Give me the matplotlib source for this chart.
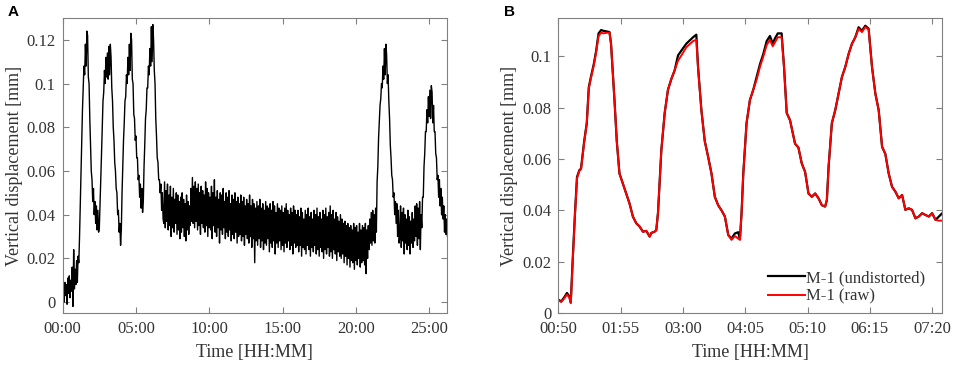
import numpy as np
import matplotlib
matplotlib.use("Agg")
import matplotlib.pyplot as plt

plt.rcParams['font.family'] = ['Liberation Serif', 'DejaVu Serif']

# Panel A: two readings per 0.1 h step (um)
hours_a = np.arange(263) * 0.1
disp_a1 = np.array([
    1, 0, 3, -1, 4, 2, 5, -2, 6, 8,
    9, 18, 45, 75, 98, 104, 108, 122, 100, 72,
    56, 52, 46, 44, 42, 34, 55, 80, 96, 100,
    103, 102, 104, 112, 92, 74, 60, 50, 42, 36,
    33, 62, 82, 94, 100, 104, 106, 120, 100, 84,
    76, 66, 58, 54, 52, 46, 72, 88, 98, 104,
    108, 110, 120, 100, 76, 64, 56, 54, 50, 36,
    34, 37, 33, 35, 30, 34, 32, 36, 31, 33,
    29, 32, 34, 30, 28, 33, 31, 35, 37, 36,
    34, 37, 33, 35, 31, 36, 34, 32, 35, 30,
    34, 33, 29, 35, 32, 30, 34, 27, 33, 31,
    34, 29, 32, 30, 33, 28, 31, 29, 32, 27,
    30, 31, 28, 30, 26, 31, 29, 27, 30, 25,
    29, 18, 28, 26, 29, 25, 28, 24, 27, 26,
    29, 23, 27, 25, 28, 22, 27, 25, 28, 24,
    26, 23, 27, 25, 28, 24, 26, 22, 27, 25,
    26, 23, 26, 21, 25, 24, 22, 26, 24, 21,
    25, 23, 26, 22, 24, 21, 25, 23, 20, 24,
    22, 25, 21, 23, 20, 24, 22, 19, 23, 21,
    20, 22, 18, 21, 17, 20, 16, 19, 18, 15,
    19, 17, 20, 16, 18, 19, 17, 13, 20, 24,
    27, 26, 28, 27, 32, 62, 82, 93, 98, 102,
    104, 113, 104, 84, 66, 56, 50, 46, 45, 42,
    30, 25, 28, 22, 27, 24, 26, 22, 27, 25,
    28, 30, 26, 29, 24, 34, 48, 68, 78, 82,
    85, 84, 96, 90, 78, 66, 58, 56, 52, 48,
    44, 40, 38]) / 1000
disp_a2 = np.array([
    7, 9, 8, 11, 12, 10, 16, 24, 15, 19,
    21, 30, 60, 88, 108, 118, 124, 103, 84, 60,
    46, 40, 36, 33, 32, 45, 68, 92, 106, 112,
    114, 117, 118, 98, 80, 64, 52, 40, 32, 26,
    50, 74, 92, 104, 112, 118, 123, 102, 86, 74,
    66, 56, 48, 43, 41, 62, 84, 98, 108, 116,
    126, 127, 106, 84, 66, 56, 50, 42, 38, 55,
    51, 54, 49, 53, 48, 52, 47, 50, 49, 46,
    48, 50, 47, 45, 49, 46, 44, 52, 57, 53,
    55, 52, 54, 50, 53, 51, 49, 55, 52, 50,
    48, 53, 50, 56, 48, 51, 47, 50, 49, 52,
    46, 50, 48, 51, 45, 49, 47, 50, 46, 48,
    45, 49, 46, 48, 44, 47, 45, 49, 44, 47,
    45, 43, 46, 44, 47, 43, 45, 42, 46, 44,
    43, 45, 42, 46, 44, 41, 45, 43, 42, 44,
    41, 43, 45, 42, 40, 43, 41, 44, 42, 40,
    42, 39, 43, 41, 38, 42, 40, 43, 39, 41,
    38, 42, 40, 43, 39, 41, 38, 42, 40, 43,
    39, 41, 44, 40, 42, 38, 41, 39, 37, 40,
    38, 36, 37, 35, 36, 34, 35, 33, 36, 34,
    35, 32, 36, 33, 35, 34, 36, 33, 35, 38,
    41, 42, 40, 43, 55, 75, 90, 100, 108, 116,
    118, 100, 92, 72, 58, 48, 40, 36, 30, 27,
    44, 41, 43, 40, 38, 42, 39, 37, 41, 38,
    44, 45, 43, 46, 40, 48, 62, 78, 88, 94,
    97, 99, 82, 78, 68, 56, 48, 44, 40, 38,
    32, 31, 30]) / 1000
ticks_a = [0, 5, 10, 15, 20, 25]
ticklabels_a = ['00:00', '05:00', '10:00', '15:00', '20:00', '25:00']

# Panel B: minutes since 00:00, displacement in um
mins_b = np.array([
    50, 53, 56, 59, 61.5, 63, 65, 67.4, 69.5, 72, 73.7, 77, 79.7, 81.8, 84, 87,
    89.4, 92, 94.7, 97, 100, 103.4, 105, 108.6, 111, 113.8, 117.3, 120.8, 124.3,
    127.8, 131.3, 134.8, 138.3, 141.8, 145.3, 147, 150.5, 152.2, 154, 157.5, 161,
    164.4, 168, 171.4, 174.9, 178.4, 183.6, 190.6, 194, 195.8, 199.3, 202.8,
    206.3, 209.8, 213.3, 216.8, 220.3, 223.8, 227.3, 230.7, 234.2, 237.7, 239.5,
    241.2, 243, 246.4, 249.9, 253.4, 256.9, 260.4, 263.9, 267.4, 270.8, 273.7,
    276, 279, 283, 285.5, 288.3, 291.8, 297, 300.5, 304, 307.5, 311, 314.5, 318,
    321.5, 325, 328.4, 330.2, 332, 335.4, 338.9, 342.4, 345.9, 349.4, 352.9,
    356.4, 359.9, 363.3, 366.8, 370.3, 373.8, 377.3, 380.8, 384.3, 387.8, 391.2,
    394.7, 398.2, 401.7, 405.2, 408.7, 412.1, 415.6, 419.1, 422.6, 426.1, 429.6,
    433.1, 436.6, 440, 443.6, 447.1, 450.6])
undistorted_b = np.array([
    5.2, 4.5, 6.0, 7.8, 6.5, 4.2, 20.7, 39, 53, 55.7, 56.3, 67, 74, 88, 92, 97,
    102, 109, 110.3, 110, 109.8, 109.5, 105, 83, 67, 54.4, 50.5, 46.6, 42.7,
    37.6, 35, 33.7, 31.7, 32, 29.8, 31.2, 31.7, 32.3, 39, 63.5, 78,
    87, 91.3, 94.6, 100.4, 102.3, 105, 107.5, 108.5, 95.9, 79, 67,
    60.9, 54.4, 45.3, 42, 40, 37.6, 30.4, 29, 31, 31.5, 28.8,
    39, 54.4, 74, 83, 87, 92, 97, 101, 106, 108, 105,
    107, 109, 109, 95.9, 78, 75.1, 66, 64.5, 58.3, 55, 46.6, 45.3, 46.6,
    44.7, 42, 41.5, 44, 57, 74, 79, 85.5, 92, 95.9, 101,
    105, 107.5, 111.4, 110, 112, 110.8, 95.9, 85.5, 79, 64.8, 62,
    54.4, 49.2, 47.3, 44.7, 46, 40.2, 40.8, 40.2, 36.9, 37.6, 38.9,
    38.2, 37.6, 38.9, 36.3, 37.6, 38.9]) / 1000
raw_b = np.array([
    5.0, 4.3, 5.6, 7.2, 6.0, 3.8, 20, 38.5, 52.5, 55.5, 56, 66.5, 74, 87.5, 91.5, 96.5,
    101.5, 108, 109.3, 109, 109.2, 109.3, 105, 83, 67, 54.4, 50.5, 46.6, 42.7,
    37.6, 35, 33.7, 31.7, 32, 29.8, 31.2, 31.7, 32.3, 39, 63.5, 78,
    87, 91.3, 94.6, 98.4, 100.4, 103.6, 106, 106.5, 95.5, 79, 67,
    60.9, 54.4, 45.3, 42, 40, 37.6, 30.4, 28.5, 30, 29, 28.5,
    39, 54.4, 74, 83, 87, 91, 96, 100, 104.5, 106.5, 104,
    105.5, 107.5, 107.5, 95.9, 78, 75.1, 66, 64.5, 58.3, 55, 46.6, 45.3, 46.6,
    44.7, 42, 41.5, 44, 57, 74, 79, 85.5, 92, 95.9, 101,
    105, 107.5, 110.8, 109.5, 111.5, 110.5, 95.9, 85.5, 79, 64.8, 62,
    54.4, 49.2, 47.3, 44.7, 46, 40.2, 40.8, 40.2, 36.9, 37.6, 38.9,
    38.2, 37.6, 38.9, 36.3, 36, 36]) / 1000
ticks_b = [50, 115, 180, 245, 310, 375, 440]
ticklabels_b = ['00:50', '01:55', '03:00', '04:05', '05:10', '06:15', '07:20']
yticks = [0, 0.02, 0.04, 0.06, 0.08, 0.1, 0.12]
yticklabels = ['0', '0.02', '0.04', '0.06', '0.08', '0.1', '0.12']

text_col = '#333333'
axis_col = '#808080'

fig = plt.figure(figsize=(9.57, 3.65), dpi=100)
ax1 = fig.add_axes([0.0655, 0.1425, 0.4013, 0.8082])
ax2 = fig.add_axes([0.5834, 0.1425, 0.4006, 0.8082])

# interleave the two readings so the trace fills the noise band
x_a = np.column_stack([hours_a, hours_a + 0.05]).ravel()
y_a = np.column_stack([disp_a1, disp_a2]).ravel()
ax1.plot(x_a, y_a, color='black', lw=1.0)
ax1.set_xlim(0, 26.2)
ax1.set_ylim(-0.005, 0.13)
ax1.set_xticks(ticks_a, ticklabels_a)
ax1.set_yticks(yticks, yticklabels)

ax2.plot(mins_b, undistorted_b, color='black', lw=1.6, label='M-1 (undistorted)')
ax2.plot(mins_b, raw_b, color='#ff0000', lw=1.4, label='M-1 (raw)')
ax2.set_xlim(50, 450)
ax2.set_ylim(0, 0.115)
ax2.set_xticks(ticks_b, ticklabels_b)
ax2.set_yticks(yticks[:-1], yticklabels[:-1])
leg = ax2.legend(loc='lower right', bbox_to_anchor=(0.979, 0.0), frameon=False,
                 fontsize=12, handlelength=2.2, handletextpad=0.1,
                 labelspacing=0.15, borderaxespad=0.1)
for t in leg.get_texts():
    t.set_color(text_col)

for ax in (ax1, ax2):
    ax.tick_params(direction='in', top=True, right=True, length=4, width=0.8,
                   color=axis_col, labelcolor=text_col, labelsize=12)
    ax.tick_params(axis='x', pad=6)
    ax.tick_params(axis='y', pad=5)
    for s in ax.spines.values():
        s.set_color(axis_col)
        s.set_linewidth(0.8)
    ax.set_xlabel('Time [HH:MM]', fontsize=13, color=text_col)
    ax.set_ylabel('Vertical displacement [mm]', fontsize=13, color=text_col)
    ax.xaxis.set_label_coords(0.5, -0.105)

ax1.yaxis.set_label_coords(-0.103, 0.5)
ax2.yaxis.set_label_coords(-0.105, 0.5)

fig.text(0.008, 0.985, 'A', fontsize=11, fontweight='bold', va='top',
         family='Liberation Sans')
fig.text(0.527, 0.985, 'B', fontsize=11, fontweight='bold', va='top',
         family='Liberation Sans')

fig.savefig('out.png', dpi=100)
